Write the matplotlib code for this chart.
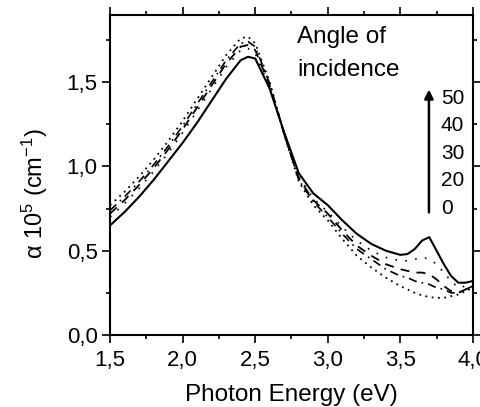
import matplotlib
matplotlib.use("Agg")
import matplotlib.pyplot as plt
from matplotlib.ticker import MultipleLocator, FuncFormatter

plt.rcParams['font.family'] = ['Liberation Sans', 'DejaVu Sans']
plt.rcParams['mathtext.fontset'] = 'custom'
plt.rcParams['mathtext.rm'] = 'Liberation Sans'
plt.rcParams['mathtext.it'] = 'Liberation Sans'

# photon energy (eV)
energy = [1.5, 1.6, 1.7, 1.8, 1.9, 2.0, 2.1, 2.2, 2.3, 2.4, 2.45, 2.5, 2.6, 2.7,
          2.8, 2.9, 3.0, 3.1, 3.2, 3.3, 3.4, 3.5, 3.55, 3.6, 3.65, 3.7, 3.75,
          3.8, 3.85, 3.9, 3.95, 4.0]

# absorption coefficient (x 1e5 cm^-1) for each angle of incidence
alpha_0 = [0.65, 0.73, 0.82, 0.92, 1.03, 1.14, 1.26, 1.39, 1.52, 1.63, 1.65, 1.64,
           1.46, 1.20, 0.96, 0.84, 0.77, 0.68, 0.60, 0.54, 0.50, 0.475, 0.48, 0.51,
           0.56, 0.58, 0.50, 0.42, 0.35, 0.31, 0.31, 0.32]
alpha_20 = [0.70, 0.78, 0.87, 0.97, 1.08, 1.20, 1.33, 1.46, 1.59, 1.69, 1.70, 1.67,
            1.47, 1.19, 0.94, 0.81, 0.73, 0.64, 0.56, 0.50, 0.46, 0.44, 0.44, 0.45,
            0.46, 0.45, 0.42, 0.37, 0.32, 0.28, 0.29, 0.30]
alpha_30 = [0.72, 0.80, 0.89, 0.99, 1.10, 1.22, 1.35, 1.48, 1.61, 1.71, 1.72, 1.69,
            1.48, 1.19, 0.93, 0.80, 0.72, 0.62, 0.53, 0.47, 0.42, 0.39, 0.38, 0.37,
            0.37, 0.36, 0.33, 0.29, 0.26, 0.25, 0.27, 0.29]
alpha_40 = [0.74, 0.82, 0.91, 1.01, 1.12, 1.24, 1.37, 1.50, 1.63, 1.73, 1.74, 1.71,
            1.49, 1.19, 0.92, 0.79, 0.70, 0.60, 0.51, 0.45, 0.39, 0.35, 0.34, 0.32,
            0.31, 0.30, 0.28, 0.27, 0.25, 0.25, 0.27, 0.29]
alpha_50 = [0.77, 0.85, 0.94, 1.04, 1.15, 1.27, 1.40, 1.53, 1.66, 1.76, 1.77, 1.73,
            1.50, 1.19, 0.91, 0.77, 0.68, 0.57, 0.47, 0.40, 0.34, 0.29, 0.27, 0.25,
            0.235, 0.225, 0.22, 0.22, 0.23, 0.24, 0.26, 0.28]

angle_labels = ['50', '40', '30', '20', '0']

fig = plt.figure(figsize=(4.81, 4.07), dpi=100)
ax = fig.add_axes([0.229, 0.177, 0.754, 0.787])

ax.plot(energy, alpha_0, color='black', lw=1.5, ls='-')
ax.plot(energy, alpha_20, color='black', lw=1.2, ls=(0, (1, 5)))
ax.plot(energy, alpha_30, color='black', lw=1.3, ls=(0, (5, 4)))
ax.plot(energy, alpha_40, color='black', lw=1.2, ls=(0, (5, 3, 1, 3)))
ax.plot(energy, alpha_50, color='black', lw=1.3, ls=(0, (1, 2.5)))

ax.set_xlim(1.5, 4.0)
ax.set_ylim(0, 1.9)
ax.xaxis.set_major_locator(MultipleLocator(0.5))
ax.xaxis.set_minor_locator(MultipleLocator(0.25))
ax.yaxis.set_major_locator(MultipleLocator(0.5))
ax.yaxis.set_minor_locator(MultipleLocator(0.25))
comma = FuncFormatter(lambda v, p: f"{v:.1f}".replace('.', ','))
ax.xaxis.set_major_formatter(comma)
ax.yaxis.set_major_formatter(comma)
ax.tick_params(which='both', direction='out', top=True, right=True,
               width=1.2, labelsize=16)
ax.tick_params(which='major', length=6, pad=3)
ax.tick_params(axis='x', which='major', pad=5)
ax.tick_params(which='minor', length=3)
for s in ax.spines.values():
    s.set_linewidth(1.5)

ax.set_xlabel('Photon Energy (eV)', fontsize=17.5, labelpad=9)
ax.set_ylabel('α 10$^5$ (cm$^{-1}$)', fontsize=17)
ax.yaxis.set_label_coords(-0.165, 0.44)

ax.text(0.515, 0.965, 'Angle of\nincidence', transform=ax.transAxes,
        fontsize=17.5, va='top', ha='left', linespacing=1.65)
ax.annotate('', xy=(0.879, 0.775), xytext=(0.879, 0.374), xycoords='axes fraction',
            arrowprops=dict(arrowstyle='-|>', color='black', lw=1.8,
                            mutation_scale=13))
for i, lab in enumerate(angle_labels):
    ax.text(0.912, 0.739 - i * 0.086, lab, transform=ax.transAxes,
            fontsize=15, va='center', ha='left')

fig.savefig('out.png', dpi=100)
